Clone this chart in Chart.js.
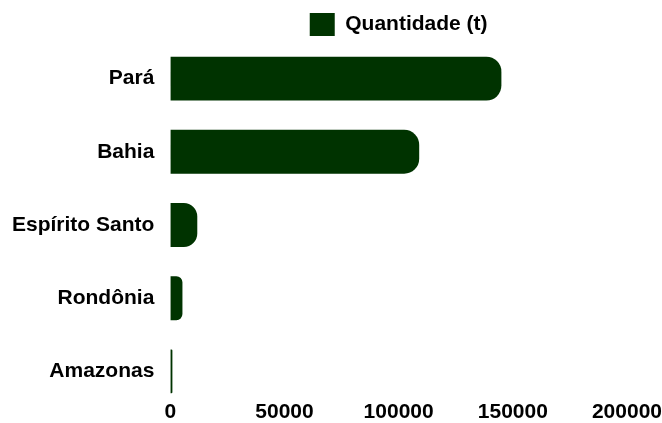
<!DOCTYPE html>
<html>
<head>
<meta charset="utf-8">
<script src="https://cdn.jsdelivr.net/npm/chart.js@4"></script>
<style>
  body { margin: 0; background: #fff; }
  #wrap { width: 662px; height: 423px; }
</style>
</head>
<body>
<div id="wrap"><canvas id="chart"></canvas></div>
<script>
const estados = ["Pará", "Bahia", "Espírito Santo", "Rondônia", "Amazonas"];
const quantidade = [145000, 109000, 11800, 5300, 900];
const ticksX = [0, 50000, 100000, 150000, 200000];

Chart.defaults.font.family = "'Liberation Sans', Arial, sans-serif";
Chart.defaults.font.size = 21;
Chart.defaults.font.weight = "bold";
Chart.defaults.color = "#000";

// stretch the category axis a little so the rows spread like the original
const stretchRows = {
  id: "stretchRows",
  afterLayout(chart) {
    const y = chart.scales.y;
    y.top -= 4;
    y.bottom += 6;
    y.height = y.bottom - y.top;
    y.configure();
  }
};

new Chart(document.getElementById("chart"), {
  type: "bar",
  data: {
    labels: estados,
    datasets: [{
      label: "Quantidade (t)",
      data: quantidade,
      backgroundColor: "#003300",
      borderRadius: 15,
      borderSkipped: "start",
      barPercentage: 0.75,
      categoryPercentage: 0.8
    }]
  },
  options: {
    indexAxis: "y",
    responsive: true,
    maintainAspectRatio: false,
    animation: false,
    layout: { padding: { top: 8, left: 4, bottom: 0, right: 0 } },
    scales: {
      x: {
        min: 0,
        max: 200000,
        grid: { display: false, drawTicks: false },
        border: { display: false },
        afterBuildTicks: (axis) => { axis.ticks = ticksX.map(v => ({ value: v })); },
        ticks: { padding: 0, font: { lineHeight: 1 }, callback: (v) => String(v) }
      },
      y: {
        grid: { display: false },
        border: { display: false },
        ticks: { padding: 8 }
      }
    },
    plugins: {
      legend: {
        fullSize: false,
        labels: { boxWidth: 25, boxHeight: 23, padding: 5 }
      },
      tooltip: { enabled: false }
    }
  },
  plugins: [stretchRows]
});
</script>
</body>
</html>
